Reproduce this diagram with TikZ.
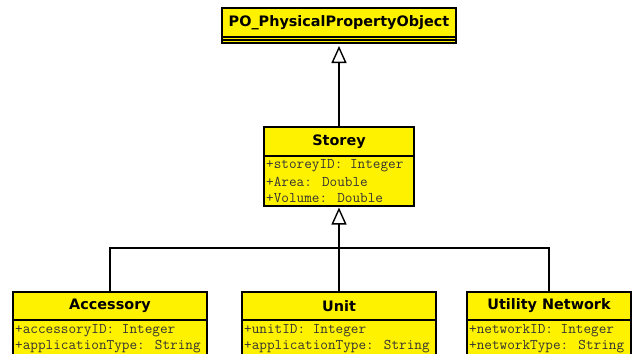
\documentclass[tikz,border=0pt]{standalone}
\usepackage{fontspec}
\newfontfamily\titlefont{DejaVu Sans}
\usetikzlibrary{arrows.meta}
\begin{document}
\begin{tikzpicture}[x=1pt,y=-1pt,
  comp/.style={draw=black, line width=1.4pt, fill=yellow, inner sep=0pt, outer sep=0pt, anchor=north west},
  ttl/.style={comp, font=\titlefont\bfseries\fontsize{14.4}{16}\selectfont},
  attr/.style={font=\ttfamily\fontsize{14.8}{16}\selectfont, anchor=west, inner sep=0pt, text=black!80},
  gen/.style={-{Triangle[length=17pt,width=15pt,fill=white]}, line width=1.4pt},
  link/.style={line width=1.4pt}]
\useasboundingbox (0,0) rectangle (633,354);
\clip (0,0) rectangle (633,354);
\fill[white] (0,0) rectangle (633,354);

% PO_PhysicalPropertyObject
\node[ttl, minimum width=234pt, minimum height=29pt] (poT) at (222,8) {PO\_PhysicalPropertyObject};
\node[comp, minimum width=234pt, minimum height=3pt] (poA) at (222,37) {};
\node[comp, minimum width=234pt, minimum height=3pt] (poB) at (222,40) {};

% Storey
\node[ttl, minimum width=150pt, minimum height=29pt] (stT) at (264,127) {Storey};
\node[comp, minimum width=150pt, minimum height=50pt] (stA) at (264,156) {};
\node[attr] (st1) at (266,166) {+storeyID: Integer};
\node[attr] (st2) at (266,182) {+Area: Double};
\node[attr] (st3) at (266,198) {+Volume: Double};

% Accessory
\node[ttl, minimum width=194pt, minimum height=28pt] (acT) at (13,292) {Accessory};
\node[comp, minimum width=194pt, minimum height=60pt] (acA) at (13,320) {};
\node[attr] (ac1) at (15,331) {+accessoryID: Integer};
\node[attr] (ac2) at (15,347) {+applicationType: String};

% Unit
\node[ttl, minimum width=194pt, minimum height=28pt] (unT) at (242,292) {Unit};
\node[comp, minimum width=194pt, minimum height=60pt] (unA) at (242,320) {};
\node[attr] (un1) at (244,331) {+unitID: Integer};
\node[attr] (un2) at (244,347) {+applicationType: String};

% Utility Network
\node[ttl, minimum width=164pt, minimum height=28pt] (utT) at (467,292) {Utility Network};
\node[comp, minimum width=164pt, minimum height=60pt] (utA) at (467,320) {};
\node[attr] (ut1) at (469,331) {+networkID: Integer};
\node[attr] (ut2) at (469,347) {+networkType: String};

% connectors
\draw[gen, shorten >=3pt] (stT.north) -- (poB.south);
\coordinate (j) at (339,248);
\draw[gen, shorten >=1.5pt] (j) -- (stA.south);
\draw[link] (acT.north) |- (j) -| (utT.north);
\draw[link] (unT.north) -- (j);
\end{tikzpicture}
\end{document}
